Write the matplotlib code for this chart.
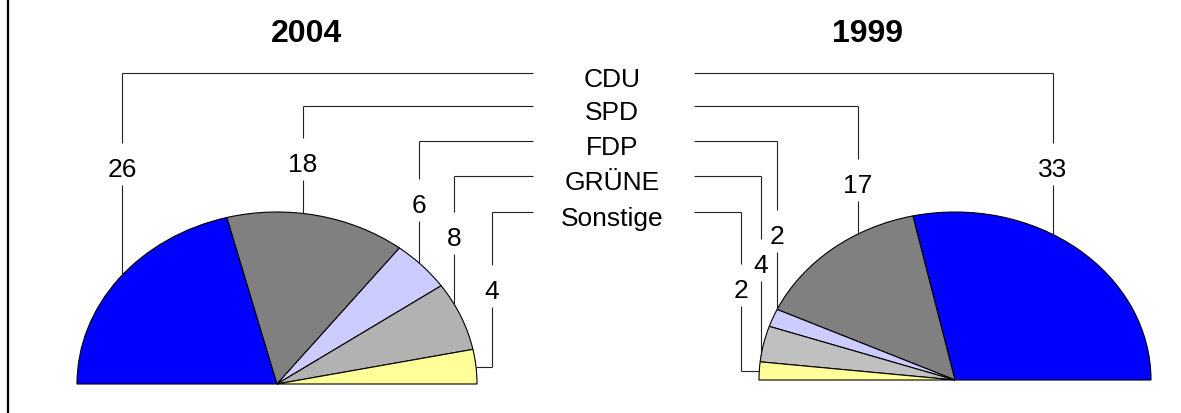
import matplotlib
matplotlib.use('Agg')
import matplotlib.pyplot as plt
import numpy as np

plt.rcParams['font.family'] = ['Liberation Sans', 'DejaVu Sans']

# Daten: Sitzverteilung
parties = ['CDU', 'SPD', 'FDP', 'GRÜNE', 'Sonstige']
seats_2004 = [26, 18, 6, 8, 4]
seats_1999 = [33, 17, 2, 4, 2]
colors_2004 = ['#0000FF', '#808080', '#CCCCFF', '#B2B2B2', '#FFFF99']
colors_1999 = ['#0000FF', '#808080', '#CCCCFF', '#C0C0C0', '#FFFF99']

W, H = 1181, 414
fig = plt.figure(figsize=(W / 100, H / 100), dpi=100)

# Layout (Pixel): Mittelpunkt, Halbachsen, Beschriftungen
row_y = [74, 107, 142, 177, 213]
label_x = 612
pies = [
    dict(values=seats_2004, colors=colors_2004, title='2004', title_x=306,
         cx=277, cy=385, rx=200, ry=172, start=180, counterclock=False,
         lead_x=[122, 303, 419, 454, 492], num_base=[177, 172, 213, 246, 299],
         line_from=533),
    dict(values=seats_1999, colors=colors_1999, title='1999', title_x=867,
         cx=955, cy=381, rx=196, ry=168, start=0, counterclock=True,
         lead_x=[1053, 858, 777, 761, 741], num_base=[177, 193, 244, 273, 298],
         line_from=694),
]

line_kw = dict(color='#222222', lw=0.8, solid_capstyle='butt')


def mid_angles(values, start, counterclock):
    total = sum(values)
    cum = np.concatenate([[0], np.cumsum(values)[:-1]])
    mids = (cum + np.array(values) / 2) / total * 180
    return start + mids if counterclock else start - mids


# Halbkreise
for p in pies:
    cx, cy, rx, ry = p['cx'], p['cy'], p['rx'], p['ry']
    ax = fig.add_axes([(cx - 1.1 * rx) / W, (H - cy - 0.1 * ry) / H,
                       2.2 * rx / W, 1.2 * ry / H])
    vals = list(p['values'])
    wedges, _ = ax.pie(vals + [sum(vals)], colors=p['colors'] + ['white'],
                       startangle=p['start'], counterclock=p['counterclock'],
                       wedgeprops=dict(edgecolor='black', linewidth=0.8))
    wedges[-1].set_visible(False)
    ax.set_xlim(-1.1, 1.1)
    ax.set_ylim(-0.1, 1.1)
    ax.set_aspect('auto')

# Overlay für Linien und Texte
ov = fig.add_axes([0, 0, 1, 1])
ov.set_xlim(0, W)
ov.set_ylim(H, 0)
ov.axis('off')
ov.patch.set_alpha(0)

# linker Rand
ov.plot([8, 8], [0, H], color='black', lw=1.6)

for name, y in zip(parties, row_y):
    ov.text(label_x, y + 13, name, ha='center', va='baseline', fontsize=19)

for p in pies:
    cx, cy, rx, ry = p['cx'], p['cy'], p['rx'], p['ry']
    ov.text(p['title_x'], 42, p['title'], ha='center', va='baseline',
            fontsize=23, fontweight='bold')
    mids = mid_angles(p['values'], p['start'], p['counterclock'])
    for v, x, y, base, m in zip(p['values'], p['lead_x'], row_y, p['num_base'], mids):
        ov.plot([p['line_from'], x], [y, y], **line_kw)
        u = (x - cx) / rx
        if abs(u) < 1:
            end_y = cy - ry * np.sqrt(1 - u * u)
            tail = None
        else:
            t = np.radians(m)
            end_y = cy - ry * np.sin(t)
            tail = cx + rx * np.cos(t)
        ov.plot([x, x], [y, base - 33], **line_kw)
        ov.plot([x, x], [base + 9, end_y], **line_kw)
        if tail is not None:
            ov.plot([x, tail], [end_y, end_y], **line_kw)
        ov.text(x, base, str(v), ha='center', va='baseline', fontsize=19)

fig.savefig('out.png', dpi=100, facecolor='white')
